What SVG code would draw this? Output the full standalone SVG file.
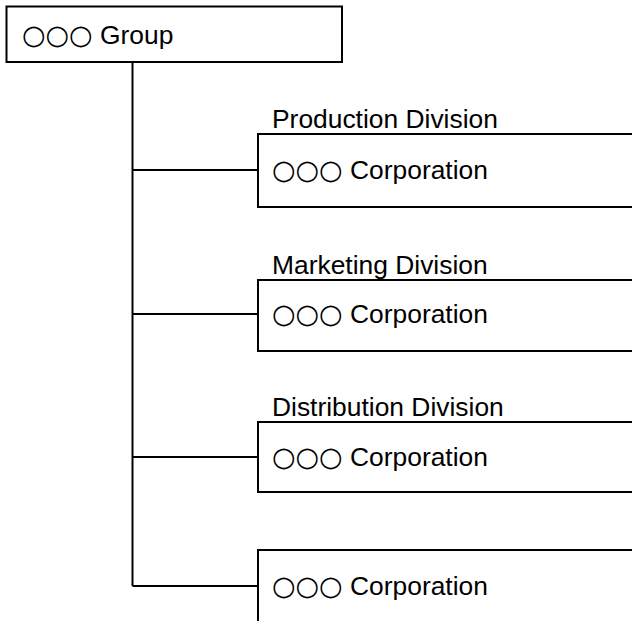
<svg xmlns="http://www.w3.org/2000/svg" width="632" height="621" viewBox="0 0 632 621">
<style>
.box{fill:#fff;stroke:#000;stroke-width:2}
.ln{fill:none;stroke:#000;stroke-width:2}
text{font-family:"Liberation Sans",Arial,sans-serif;font-size:26.4px;fill:#000}
.c{font-family:"DejaVu Sans",sans-serif;font-size:27px}
</style>
<rect width="632" height="621" fill="#fff"/>
<g id="connectors">
<path class="ln" d="M132.5 62 V586 M132.5 170 H258 M132.5 314 H258 M132.5 457 H258 M132.5 586 H258"/>
</g>
<g id="group">
<rect class="box" x="6.5" y="6.5" width="335.5" height="55.5"/>
<text x="22" y="44"><tspan class="c">○○○</tspan> Group</text>
</g>
<g id="production">
<text x="272" y="128">Production Division</text>
<rect class="box" x="258" y="134" width="420" height="73"/>
<text x="272" y="179"><tspan class="c">○○○</tspan> Corporation</text>
</g>
<g id="marketing">
<text x="272" y="274">Marketing Division</text>
<rect class="box" x="258" y="280" width="420" height="71"/>
<text x="272" y="323"><tspan class="c">○○○</tspan> Corporation</text>
</g>
<g id="distribution">
<text x="272" y="416">Distribution Division</text>
<rect class="box" x="258" y="422" width="420" height="70"/>
<text x="272" y="466"><tspan class="c">○○○</tspan> Corporation</text>
</g>
<g id="corp4">
<rect class="box" x="258" y="550" width="420" height="100"/>
<text x="272" y="595"><tspan class="c">○○○</tspan> Corporation</text>
</g>
</svg>
